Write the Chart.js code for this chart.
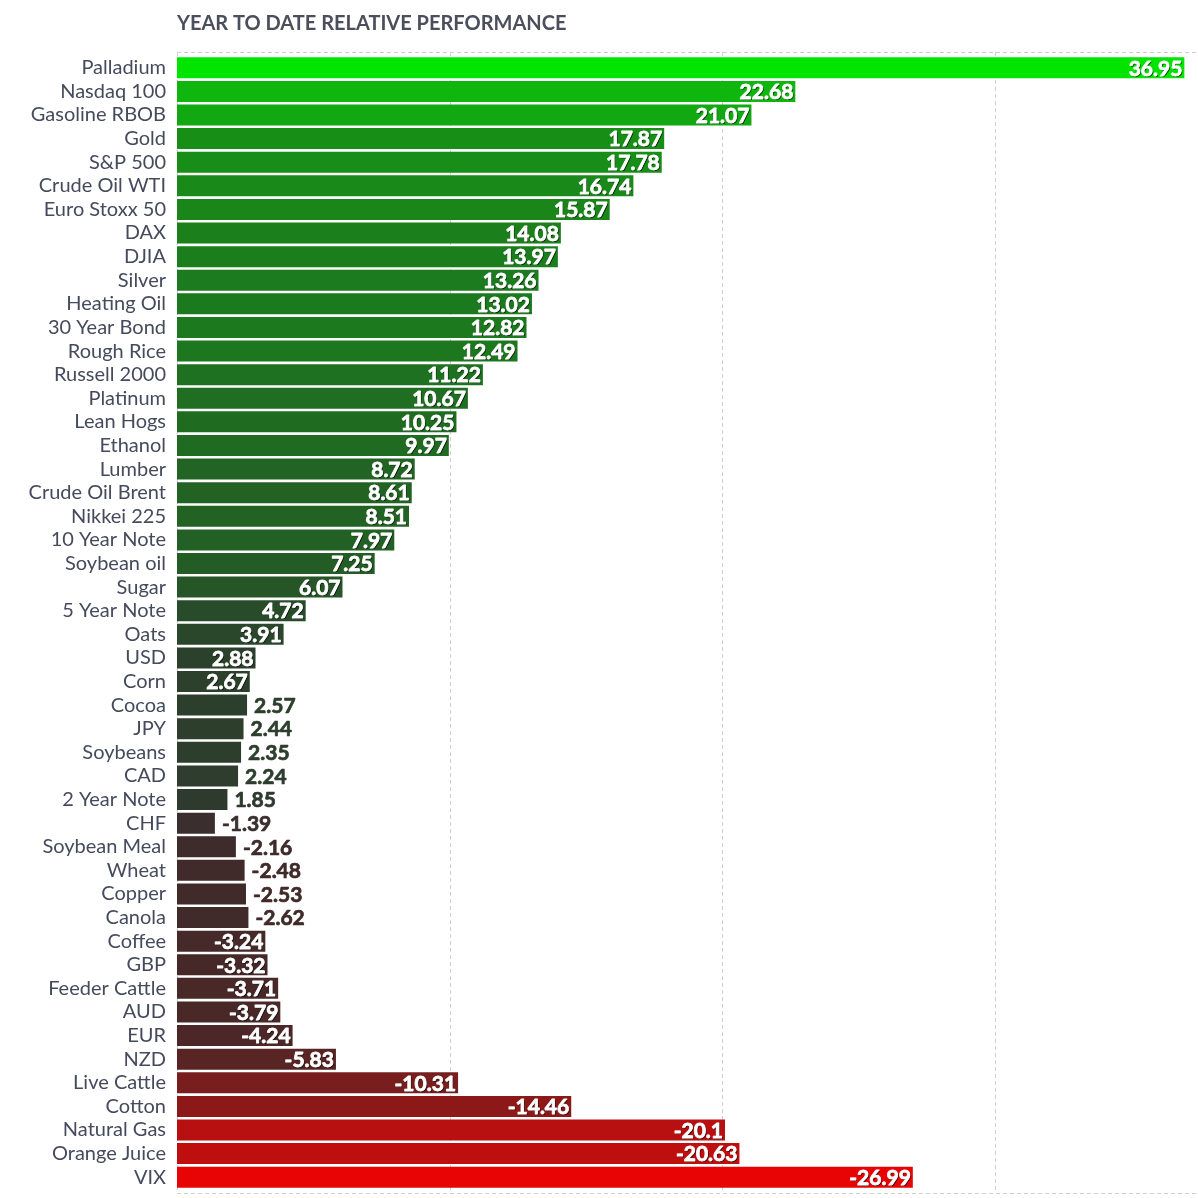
<!DOCTYPE html>
<html>
<head>
<meta charset="utf-8">
<script src="https://cdn.jsdelivr.net/npm/chart.js@4.4.0/dist/chart.umd.min.js"></script>
<style>
  html, body { margin: 0; padding: 0; background: #fff; }
  #wrap { width: 1198px; height: 1198px; }
</style>
</head>
<body>
<div id="wrap"><canvas id="perfChart" width="1198" height="1198"></canvas></div>
<script>
// categories, top to bottom
const categories = [
  "Palladium", "Nasdaq 100", "Gasoline RBOB", "Gold", "S&P 500", "Crude Oil WTI",
  "Euro Stoxx 50", "DAX", "DJIA", "Silver", "Heating Oil", "30 Year Bond",
  "Rough Rice", "Russell 2000", "Platinum", "Lean Hogs", "Ethanol", "Lumber",
  "Crude Oil Brent", "Nikkei 225", "10 Year Note", "Soybean oil", "Sugar", "5 Year Note",
  "Oats", "USD", "Corn", "Cocoa", "JPY", "Soybeans", "CAD", "2 Year Note",
  "CHF", "Soybean Meal", "Wheat", "Copper", "Canola", "Coffee", "GBP", "Feeder Cattle",
  "AUD", "EUR", "NZD", "Live Cattle", "Cotton", "Natural Gas", "Orange Juice", "VIX"
];

// year to date change, percent
const ytdValues = [
  36.95, 22.68, 21.07, 17.87, 17.78, 16.74,
  15.87, 14.08, 13.97, 13.26, 13.02, 12.82,
  12.49, 11.22, 10.67, 10.25, 9.97, 8.72,
  8.61, 8.51, 7.97, 7.25, 6.07, 4.72,
  3.91, 2.88, 2.67, 2.57, 2.44, 2.35, 2.24, 1.85,
  -1.39, -2.16, -2.48, -2.53, -2.62, -3.24, -3.32, -3.71,
  -3.79, -4.24, -5.83, -10.31, -14.46, -20.1, -20.63, -26.99
];

const gridTicks = [0, 10, 20, 30];
const chartTitle = "YEAR TO DATE RELATIVE PERFORMANCE";

// colour ramps (abs value -> rgb)
const greenStops = [
  [0, [50, 54, 48]], [1.85, [47, 58, 47]], [2.67, [44, 64, 44]], [4.72, [40, 76, 42]],
  [7.25, [36, 92, 38]], [10.25, [31, 108, 33]], [13, [28, 122, 30]], [15.87, [26, 134, 26]],
  [17.8, [23, 142, 23]], [21.07, [18, 168, 18]], [22.68, [14, 182, 14]], [36.95, [0, 228, 0]]
];
const redStops = [
  [0, [56, 48, 46]], [1.39, [58, 46, 46]], [2.5, [64, 42, 42]], [3.5, [72, 40, 40]],
  [5.83, [88, 36, 36]], [10.31, [120, 30, 30]], [14.46, [140, 24, 24]], [20.1, [184, 16, 16]],
  [20.63, [190, 14, 14]], [26.99, [232, 4, 4]]
];

function rampColor(v) {
  const stops = v >= 0 ? greenStops : redStops;
  const a = Math.abs(v);
  for (let i = 1; i < stops.length; i++) {
    if (a <= stops[i][0]) {
      const [v0, c0] = stops[i - 1];
      const [v1, c1] = stops[i];
      const t = (a - v0) / (v1 - v0);
      const c = c0.map((x, k) => Math.round(x + (c1[k] - x) * t));
      return `rgb(${c[0]}, ${c[1]}, ${c[2]})`;
    }
  }
  const c = stops[stops.length - 1][1];
  return `rgb(${c[0]}, ${c[1]}, ${c[2]})`;
}

const barColors = ytdValues.map(rampColor);

// dashed grid + title
const decorPlugin = {
  id: "decor",
  beforeDatasetsDraw(chart) {
    const { ctx, chartArea, scales } = chart;
    const top = chartArea.top - 4, bottom = chartArea.bottom + 4;
    ctx.save();
    ctx.strokeStyle = "#d0d0d0";
    ctx.lineWidth = 1;
    ctx.setLineDash([4, 3]);
    ctx.beginPath();
    gridTicks.forEach((t) => {
      const x = Math.round(scales.x.getPixelForValue(t)) + 0.5;
      ctx.moveTo(x, top);
      ctx.lineTo(x, bottom);
    });
    ctx.moveTo(chartArea.left, top + 0.5);
    ctx.lineTo(chart.width, top + 0.5);
    ctx.moveTo(chartArea.left, bottom + 0.5);
    ctx.lineTo(chart.width, bottom + 0.5);
    ctx.stroke();
    ctx.restore();

    ctx.save();
    ctx.font = "bold 20px Lato";
    ctx.fillStyle = "#4b4f5c";
    ctx.textBaseline = "middle";
    ctx.textAlign = "left";
    ctx.fillText(chartTitle, chartArea.left, 24);
    ctx.restore();
  }
};

// value labels at bar ends
const valueLabelPlugin = {
  id: "valueLabels",
  afterDatasetsDraw(chart) {
    const { ctx } = chart;
    const meta = chart.getDatasetMeta(0);
    ctx.save();
    ctx.font = "bold 21px Lato";
    ctx.textBaseline = "middle";
    ctx.lineJoin = "round";
    meta.data.forEach((bar, i) => {
      const text = String(ytdValues[i]);
      const w = ctx.measureText(text).width;
      const barLen = bar.x - bar.base;
      const y = bar.y + 1;
      if (barLen >= w + 30) {
        ctx.textAlign = "right";
        ctx.fillStyle = "#ffffff";
        ctx.strokeStyle = "#ffffff";
        ctx.lineWidth = 0.8;
        ctx.shadowColor = "rgba(0, 0, 0, 0.75)";
        ctx.shadowOffsetX = 1;
        ctx.shadowOffsetY = 1;
        ctx.shadowBlur = 0;
        ctx.fillText(text, bar.x - 2, y);
        ctx.shadowColor = "transparent";
        ctx.strokeText(text, bar.x - 2, y);
      } else {
        ctx.textAlign = "left";
        ctx.fillStyle = barColors[i];
        ctx.strokeStyle = barColors[i];
        ctx.lineWidth = 0.7;
        ctx.shadowColor = "transparent";
        ctx.fillText(text, bar.x + 7, y);
        ctx.strokeText(text, bar.x + 7, y);
      }
    });
    ctx.restore();
  }
};

function drawChart() {
  const ctx = document.getElementById("perfChart").getContext("2d");
  new Chart(ctx, {
    type: "bar",
    data: {
      labels: categories,
      datasets: [{
        data: ytdValues.map((v) => Math.abs(v)),
        backgroundColor: barColors,
        borderWidth: 0,
        barPercentage: 0.89,
        categoryPercentage: 1
      }]
    },
    options: {
      indexAxis: "y",
      responsive: false,
      animation: false,
      layout: { padding: { top: 56, bottom: 9, left: 0, right: 0 } },
      scales: {
        x: {
          display: false,
          min: 0,
          max: 37.45
        },
        y: {
          afterFit: (scale) => {
            scale.width = 177;
            scale.paddingTop = 0;
            scale.paddingBottom = 0;
          },
          grid: { display: false, drawTicks: false },
          border: { display: false },
          ticks: {
            padding: 11,
            color: "#454b5c",
            font: { family: "Lato", size: 20 },
            autoSkip: false
          }
        }
      },
      plugins: {
        legend: { display: false },
        title: { display: false },
        tooltip: { enabled: false }
      }
    },
    plugins: [decorPlugin, valueLabelPlugin]
  });
}

Promise.all([
  document.fonts.load("20px Lato"),
  document.fonts.load("bold 20px Lato")
]).then(drawChart, drawChart);
</script>
</body>
</html>
